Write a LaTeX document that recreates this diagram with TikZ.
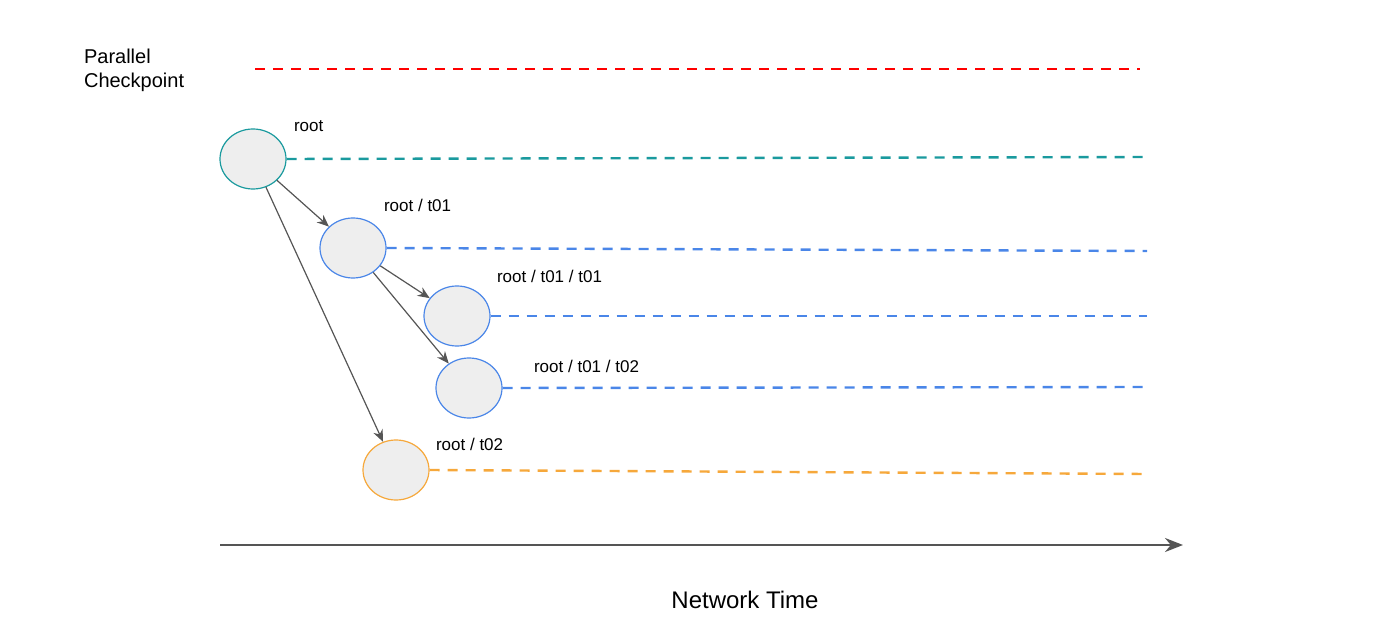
\documentclass[tikz,border=0pt]{standalone}
\usepackage{fontspec}
\setmainfont{Liberation Sans}
\usetikzlibrary{arrows.meta,shapes.geometric}
\definecolor{teal2}{HTML}{1A9A9E}
\definecolor{blue2}{HTML}{4A86E8}
\definecolor{orange2}{HTML}{F6A83B}
\definecolor{fillg}{HTML}{EEEEEE}
\definecolor{arr}{HTML}{555555}
\begin{document}
\begin{tikzpicture}[x=0.5pt,y=-0.5pt,
  st/.style={ellipse,draw=#1,fill=fillg,minimum width=33pt,minimum height=30pt,inner sep=0pt,line width=0.6pt},
  dl/.style={draw=#1,dashed,line width=1.2pt,dash pattern=on 5pt off 4pt},
  lab/.style={font=\fontsize{8.5}{10}\selectfont,anchor=west},
  ar/.style={draw=arr,line width=0.6pt,-{Stealth[length=6pt,width=5pt]}}]
\useasboundingbox (0,0) rectangle (1392,636);
\node[st=teal2] (r) at (253,159) {};
\node[st=blue2] (a) at (353,248) {};
\node[st=blue2] (aa) at (457,316) {};
\node[st=blue2] (ab) at (469,388) {};
\node[st=orange2] (b) at (396,470) {};
\coordinate (p1) at (255,69); \coordinate (p2) at (1140,69);
\draw[dl=red] (p1) -- (p2);
\coordinate (e0) at (1147,157); \draw[dl=teal2] (r.east) -- (e0);
\coordinate (e1) at (1147,251); \draw[dl=blue2] (a.east) -- (e1);
\coordinate (e2) at (1147,316); \draw[dl=blue2] (aa.east) -- (e2);
\coordinate (e3) at (1147,387); \draw[dl=blue2] (ab.east) -- (e3);
\coordinate (e4) at (1147,474); \draw[dl=orange2] (b.east) -- (e4);
\draw[ar] (r) -- (a);
\draw[ar] (r) -- (b);
\draw[ar] (a) -- (aa);
\draw[ar] (a) -- (ab);
\node[lab] (lr) at (287,126) {root};
\node[lab] (la) at (377,205) {root / t01};
\node[lab] (laa) at (490,276) {root / t01 / t01};
\node[lab] (lab2) at (527,366) {root / t01 / t02};
\node[lab] (lb) at (429,444) {root / t02};
\node[anchor=west,align=left,font=\fontsize{10}{12}\selectfont] (pc) at (77,70) {Parallel\\Checkpoint};
\coordinate (x0) at (220,545); \coordinate (x1) at (1183,545);
\draw[draw=arr,line width=1.2pt,-{Stealth[length=9pt,width=7pt]}] (x0) -- (x1);
\node[font=\fontsize{12}{14}\selectfont] (nt) at (745,600) {Network Time};
\end{tikzpicture}
\end{document}
